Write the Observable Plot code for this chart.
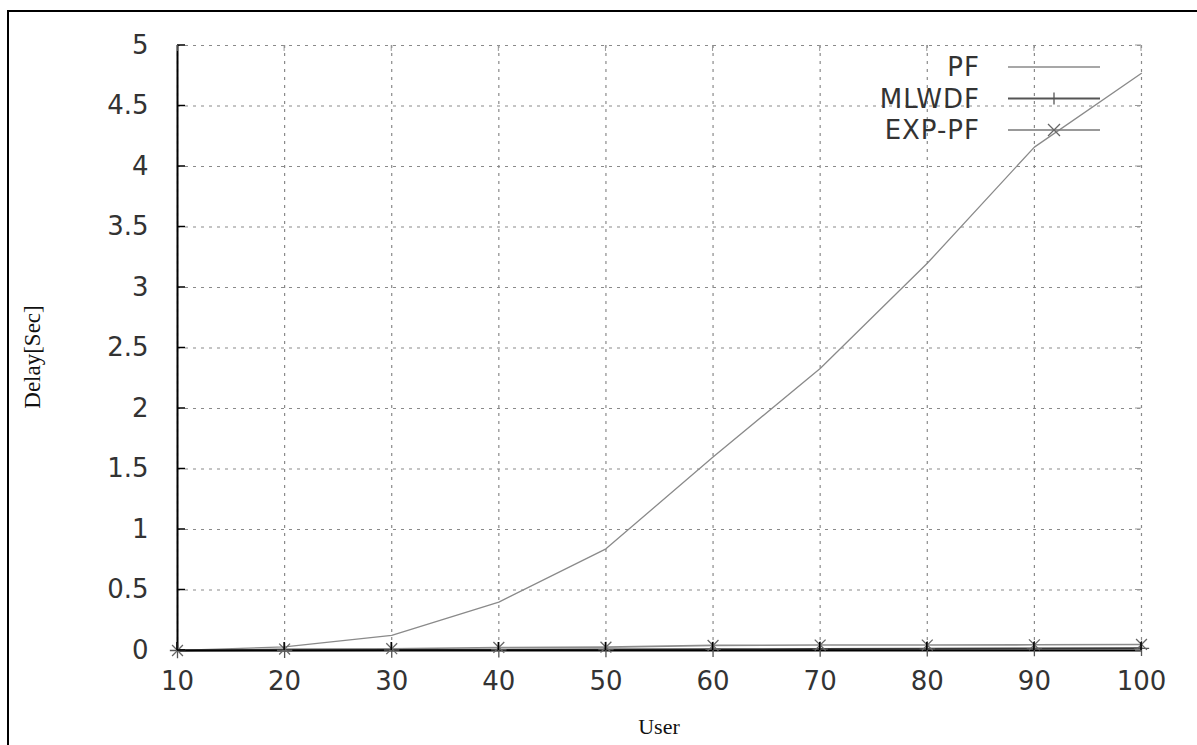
<!DOCTYPE html>
<html><head><meta charset="utf-8">
<script src="https://cdn.jsdelivr.net/npm/d3@7"></script>
<script src="https://cdn.jsdelivr.net/npm/@observablehq/plot@0.6"></script>
<style>
body{margin:0;background:#fff;}
#wrap{position:relative;width:1197px;height:745px;overflow:hidden;background:#fff;}
#border{position:absolute;left:7px;top:10px;width:1400px;height:1000px;border-left:2px solid #000;border-top:2px solid #000;}
#chart{position:absolute;left:0;top:0;}
</style></head><body><div id="wrap"><div id="border"></div><div id="chart"></div></div>
<script>
// ---- data ----
const users = [10, 20, 30, 40, 50, 60, 70, 80, 90, 100];
const pf    = [0, 0.03, 0.125, 0.40, 0.84, 1.60, 2.33, 3.20, 4.16, 4.77];
const mlwdf = [0, 0.002, 0.004, 0.006, 0.008, 0.010, 0.012, 0.014, 0.016, 0.018];
const expPf = [0, 0.012, 0.015, 0.025, 0.028, 0.042, 0.045, 0.045, 0.047, 0.05];
const seriesNames = ["PF", "MLWDF", "EXP-PF"];
const xTicks = [10, 20, 30, 40, 50, 60, 70, 80, 90, 100];
const yTicks = [0, 0.5, 1, 1.5, 2, 2.5, 3, 3.5, 4, 4.5, 5];
const xLabel = "User";
const yLabel = "Delay[Sec]";

const rowsPF = users.map((u, i) => ({x: u, y: pf[i]}));
const rowsML = users.map((u, i) => ({x: u, y: mlwdf[i]}));
const rowsEX = users.map((u, i) => ({x: u, y: expPf[i]}));

const gridStyle = {stroke: "#8a8a8a", strokeOpacity: 1, strokeWidth: 1.2, strokeDasharray: "3,5"};
const tickFont = "DejaVu Sans";

const chart = Plot.plot({
  width: 1197, height: 745,
  marginLeft: 177, marginRight: 56, marginTop: 45, marginBottom: 95,
  style: {fontFamily: tickFont, fontSize: "26px", background: "transparent", color: "#333", overflow: "visible"},
  x: {domain: [10, 100]},
  y: {domain: [0, 5]},
  marks: [
    Plot.gridX(xTicks, gridStyle),
    Plot.gridY(yTicks, gridStyle),
    Plot.axisX(xTicks, {tickSize: 0, tickPadding: 21, label: null, fill: "#333", letterSpacing: "1px"}),
    Plot.axisY(yTicks, {tickSize: 0, tickPadding: 29, label: null, fill: "#333", tickFormat: d => String(d), letterSpacing: "1px"}),
    Plot.line(rowsPF, {x: "x", y: "y", stroke: "#8a8a8a", strokeWidth: 1.3}),
    Plot.line(rowsEX, {x: "x", y: "y", stroke: "#8c8c8c", strokeWidth: 1.6}),
    Plot.line(rowsML, {x: "x", y: "y", stroke: "#3a3a3a", strokeWidth: 2}),
    Plot.ruleY([0], {stroke: "#000", strokeWidth: 2}),
    Plot.ruleX([10], {stroke: "#000", strokeWidth: 2}),
    Plot.dot(rowsML, {x: "x", y: "y", symbol: "plus", r: 5, stroke: "#555", strokeWidth: 1.3}),
    Plot.dot(rowsEX, {x: "x", y: "y", symbol: "times", r: 5, stroke: "#666", strokeWidth: 1.3})
  ]
});
document.getElementById("chart").appendChild(chart);

// decorations using the plot's own scales
const sx = chart.scale("x"), sy = chart.scale("y");
const svg = d3.select(chart);
const x0 = sx.apply(10), x1 = sx.apply(100), y0 = sy.apply(0), y1 = sy.apply(5);
const g = svg.append("g");
yTicks.forEach(v => {
  const y = sy.apply(v);
  g.append("line").attr("x1", x0).attr("x2", x0 + 8).attr("y1", y).attr("y2", y).attr("stroke", "#000").attr("stroke-width", 1.5);
  g.append("line").attr("x1", x1).attr("x2", x1 - 6).attr("y1", y).attr("y2", y).attr("stroke", "#999").attr("stroke-width", 1);
});
xTicks.forEach(v => {
  const x = sx.apply(v);
  g.append("line").attr("x1", x).attr("x2", x).attr("y1", y0).attr("y2", y0 - 8).attr("stroke", "#000").attr("stroke-width", 1.5);
  g.append("line").attr("x1", x).attr("x2", x).attr("y1", y1).attr("y2", y1 + 6).attr("stroke", "#999").attr("stroke-width", 1);
});

// axis titles
svg.append("text").attr("x", (x0 + x1) / 2).attr("y", 734).attr("text-anchor", "middle")
  .attr("font-family", "Liberation Serif").attr("font-size", 22).attr("fill", "#111").text(xLabel);
svg.append("text").attr("transform", `translate(40,357) rotate(-90)`).attr("text-anchor", "middle")
  .attr("font-family", "Liberation Serif").attr("font-size", 23).attr("fill", "#111").text(yLabel);

// legend
const legStyles = [
  {stroke: "#8a8a8a", w: 1.6, mark: null},
  {stroke: "#555", w: 1.8, mark: "plus"},
  {stroke: "#777", w: 1.6, mark: "times"}
];
const lg = svg.append("g");
seriesNames.forEach((name, i) => {
  const y = 67 + i * 31.5;
  lg.append("text").attr("x", 980).attr("y", y).attr("dy", "0.35em").attr("text-anchor", "end")
    .attr("font-family", tickFont).attr("font-size", 26).attr("letter-spacing", "1px").attr("fill", "#333").text(name);
  const s = legStyles[i];
  lg.append("line").attr("x1", 1008).attr("x2", 1100).attr("y1", y).attr("y2", y).attr("stroke", s.stroke).attr("stroke-width", s.w);
  if (s.mark === "plus") {
    lg.append("line").attr("x1", 1054).attr("x2", 1054).attr("y1", y - 6).attr("y2", y + 6).attr("stroke", "#555").attr("stroke-width", 1.3);
  } else if (s.mark === "times") {
    lg.append("path").attr("d", `M${1048},${y - 6}L${1060},${y + 6}M${1048},${y + 6}L${1060},${y - 6}`).attr("stroke", "#666").attr("stroke-width", 1.3);
  }
});
</script>
</body></html>
